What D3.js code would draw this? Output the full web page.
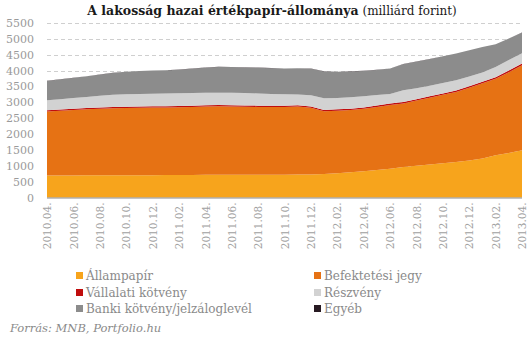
<!DOCTYPE html>
<html><head><meta charset="utf-8">
<script src="https://cdn.jsdelivr.net/npm/d3@7"></script>
<style>
html,body{margin:0;padding:0;background:#fff;}
svg{display:block;}
</style></head><body>
<svg id="c" width="531" height="342"></svg>
<script>
const months = ["2010.04.","2010.05.","2010.06.","2010.07.","2010.08.","2010.09.","2010.10.","2010.11.","2010.12.",
"2011.01.","2011.02.","2011.03.","2011.04.","2011.05.","2011.06.","2011.07.","2011.08.","2011.09.","2011.10.","2011.11.","2011.12.",
"2012.01.","2012.02.","2012.03.","2012.04.","2012.05.","2012.06.","2012.07.","2012.08.","2012.09.","2012.10.","2012.11.","2012.12.",
"2013.01.","2013.02.","2013.03.","2013.04."];
const allampapir = [690,695,695,700,700,700,705,705,705,710,710,710,715,715,715,715,720,720,720,725,725,740,765,795,830,870,910,960,1000,1040,1080,1120,1170,1230,1330,1400,1490];
const befjegy = [2022,2040,2065,2080,2095,2110,2115,2125,2130,2130,2135,2145,2150,2160,2155,2145,2135,2130,2135,2140,2105,1975,1970,1960,1965,1985,2005,2005,2055,2105,2155,2205,2290,2370,2410,2550,2680];
const vallalati = [40,40,40,40,40,40,40,40,40,40,40,40,40,40,40,40,40,40,40,40,40,45,45,45,45,45,45,45,45,45,45,50,50,50,50,50,50];
const reszveny = [315,325,335,350,370,390,395,395,395,397,400,400,395,390,390,390,385,375,360,340,350,370,360,360,350,330,300,370,345,335,325,320,300,290,320,330,330];
const banki = [606,620,635,650,665,685,705,720,730,733,745,765,790,809,810,810,810,810,810,825,840,845,820,815,800,790,803,820,835,835,845,840,830,800,720,680,645];
const egyeb = [4,4,4,4,4,4,4,4,4,4,4,4,4,4,4,4,4,4,4,4,4,4,4,4,4,4,4,4,4,4,4,4,4,4,4,4,4];
const seriesNames = ["Állampapír","Befektetési jegy","Vállalati kötvény","Részvény","Banki kötvény/jelzáloglevél","Egyéb"];
const colors = ["#F7A41C","#E67214","#C00D0D","#D2D2D2","#8C8C8C","#281A22"];
const yTicks = [0,500,1000,1500,2000,2500,3000,3500,4000,4500,5000,5500];
const xTickLabels = months.filter((m,i)=>i%2===0);

const seriesData = [allampapir,befjegy,vallalati,reszveny,banki,egyeb];
const rows = months.map((m,i)=>{const r={month:m}; seriesNames.forEach((s,k)=>r[s]=seriesData[k][i]); return r;});

const svg = d3.select("#c");
const pL=47, pR=522, pT=23, pB=197.5;
const x = d3.scalePoint().domain(months).range([pL,pR]);
const y = d3.scaleLinear().domain([0,5500]).range([pB,pT]);

// title
const title = svg.append("text").attr("x",272).attr("y",15).attr("text-anchor","middle")
  .style("font-family","'DejaVu Serif',serif").style("fill","#1a1a1a");
title.append("tspan").text("A lakosság hazai értékpapír-állománya").style("font-weight","bold").style("font-size","12.5px");
title.append("tspan").text(" (milliárd forint)").style("font-size","12px");

// gridlines
svg.append("g").selectAll("line").data(yTicks.filter(d=>d>0)).join("line")
  .attr("x1",pL).attr("x2",pR).attr("y1",d=>Math.round(y(d))+0.5).attr("y2",d=>Math.round(y(d))+0.5)
  .attr("stroke","#cfcfcf").attr("stroke-dasharray","4,3").attr("stroke-width",1);

// y axis labels
const yAxis = d3.axisLeft(y).tickValues(yTicks).tickSize(0).tickPadding(0).tickFormat(d3.format("d"));
const ya = svg.append("g").attr("transform",`translate(34,0)`).call(yAxis);
ya.select(".domain").remove();
ya.selectAll("text").style("font-family","'DejaVu Serif',serif").style("font-size","11px").style("fill","#9a9a9a");

// stack
const stack = d3.stack().keys(seriesNames);
const layers = stack(rows);
const area = d3.area().x(d=>x(d.data.month)).y0(d=>y(d[0])).y1(d=>y(d[1]));
svg.append("g").selectAll("path").data(layers).join("path")
  .attr("d",area).attr("fill",(d,i)=>colors[i]);

// baseline axis
svg.append("line").attr("x1",pL).attr("x2",pR).attr("y1",pB+0.5).attr("y2",pB+0.5)
  .attr("stroke","#8a8a8a").attr("stroke-width",1.2);

// x axis labels
const xAxis = d3.axisBottom(x).tickValues(xTickLabels).tickSize(0).tickPadding(0);
const xa = svg.append("g").attr("transform",`translate(0,${pB+5})`).call(xAxis);
xa.select(".domain").remove();
xa.selectAll("text").attr("transform","rotate(-90)").attr("text-anchor","end")
  .attr("x",0).attr("y",0).attr("dx","0").attr("dy","0.35em")
  .style("font-family","'DejaVu Serif',serif").style("font-size","10.5px").style("fill","#a0a0a0");

// legend
const leg = svg.append("g");
const legPos = [[76,272],[314,272],[76,289],[314,289],[76,305],[314,305]];
seriesNames.forEach((s,i)=>{
  const [lx,ly]=legPos[i];
  leg.append("rect").attr("x",lx).attr("y",ly).attr("width",7).attr("height",7).attr("fill",colors[i]);
  leg.append("text").attr("x",lx+10).attr("y",ly+7.5).text(s)
    .style("font-family","'DejaVu Serif',serif").style("font-size","12px").style("fill","#8a8a8a");
});

// source
svg.append("text").attr("x",10).attr("y",332).text("Forrás: MNB, Portfolio.hu")
  .style("font-family","'DejaVu Serif',serif").style("font-style","italic").style("font-size","11.5px").style("fill","#8a8a8a");
</script>
</body></html>
